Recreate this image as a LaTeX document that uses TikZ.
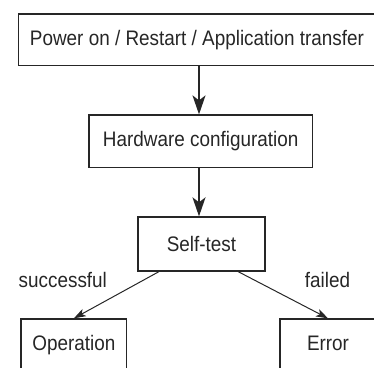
\documentclass[tikz,border=0pt]{standalone}
\usepackage{fontspec}
\setmainfont[FakeStretch=0.9]{Liberation Sans}
\usetikzlibrary{arrows.meta}
\begin{document}
\begin{tikzpicture}[x=1pt,y=-1pt,
  box/.style={draw=black!85, line width=1.3pt, inner sep=0pt, font=\fontsize{21}{25}\selectfont, text=black!85},
  lbl/.style={inner sep=0pt, font=\fontsize{21}{25}\selectfont, text=black!85},
  cutbox/.style={box, minimum height=54pt, text height=15pt, text depth=7pt},
  varr/.style={draw=black!85, line width=1.8pt, -{Stealth[length=19pt,width=13pt,inset=5pt]}},
  darr/.style={draw=black!85, line width=1pt, -{Stealth[length=12pt,width=8pt,inset=3pt]}}]
\useasboundingbox (0,0) rectangle (374,367);
\clip (0,0) rectangle (374,367);
\node[box, minimum width=357pt, minimum height=51.7pt] (top) at (197,39.85) {Power on / Restart / Application transfer};
\node[box, minimum width=223.3pt, minimum height=52.3pt] (hw) at (200.7,141.2) {Hardware configuration};
\node[box, minimum width=127pt, minimum height=54pt] (st) at (201.5,244) {Self-test};
\node[cutbox, minimum width=105.7pt] (op) at (73.85,346) {Operation};
\node[cutbox, minimum width=96pt] (err) at (328,346) {Error};
\node[lbl] (succ) at (62.8,280) {successful};
\node[lbl] (fail) at (327.5,280) {failed};
\draw[varr] (top.south -| 199,0) -- (hw.north -| 199,0);
\draw[varr] (hw.south -| 199,0) -- (st.north -| 199,0);
\draw[darr] (st.213) -- (op.north);
\draw[darr] (st.-37.3) -- (err.north);
\end{tikzpicture}
\end{document}
